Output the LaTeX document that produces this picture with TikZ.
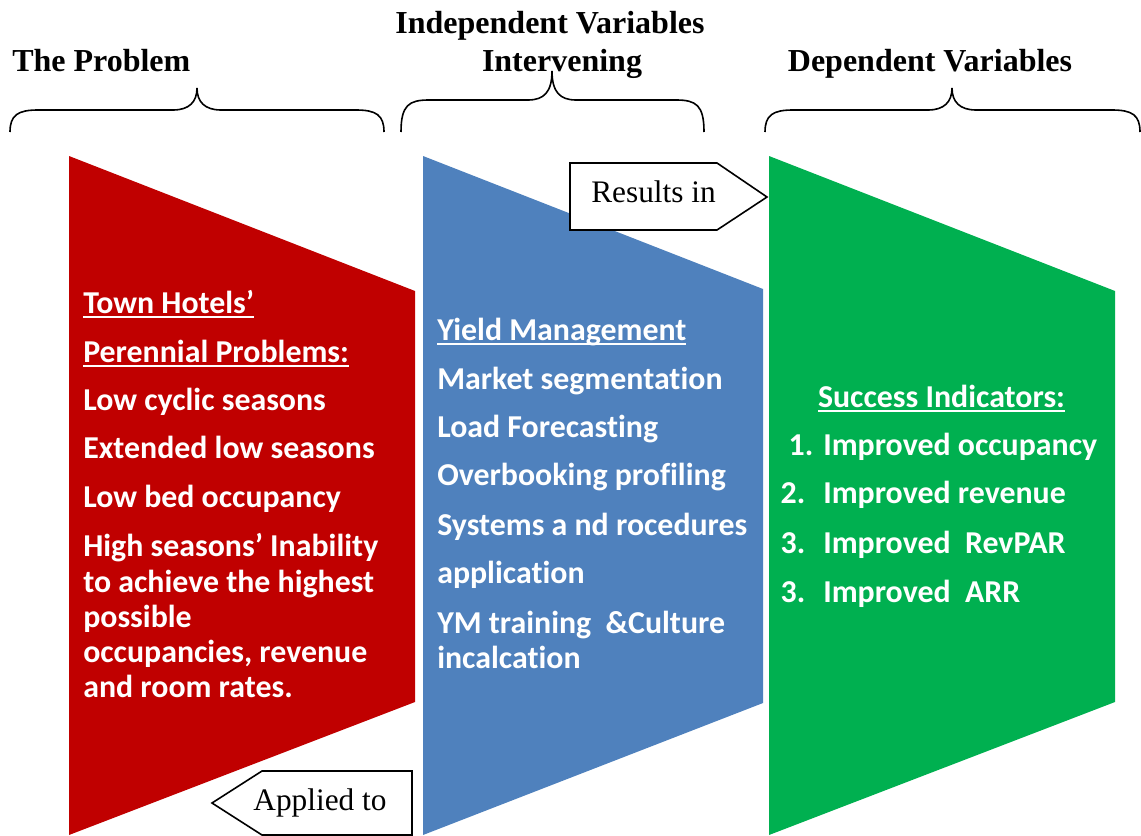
\documentclass[tikz,border=0pt]{standalone}
\usepackage{fontspec}
\setmainfont{Liberation Serif}
\newfontfamily\bodyfont[Ligatures=NoCommon]{Carlito}
\definecolor{probred}{HTML}{C00000}
\definecolor{ivblue}{HTML}{4F81BD}
\definecolor{dvgreen}{HTML}{00B050}
% white underline at a fixed depth below the baseline
\newcommand\ulw[1]{\setbox0=\hbox{#1}\rlap{\rule[-3.9pt]{\wd0}{1.5pt}}\box0}
\begin{document}
\begin{tikzpicture}[x=0.75pt,y=-0.75pt,
  headtitle/.style={font=\fontsize{24}{28}\selectfont\bfseries, inner sep=0pt},
  panelline/.style={font=\bodyfont\fontsize{23.9}{27}\selectfont\bfseries, text=white, inner sep=0pt, anchor=base west},
  arrowbox/.style={draw=black, fill=white, line width=1.2pt, line join=miter},
  arrowtext/.style={font=\fontsize{23.5}{27}\selectfont, inner sep=0pt, anchor=base},
  bracket/.style={draw=black, line width=1.2pt}]
\useasboundingbox (0,0) rectangle (1141,835);

% three panels
\fill[probred] (69,156) coordinate (rtl) -- (415,291) coordinate (rtr) -- (415,702) coordinate (rbr) -- (69,835) coordinate (rbl) -- cycle;
\fill[ivblue]  (423,156) coordinate (btl) -- (763,289) coordinate (btr) -- (763,703) coordinate (bbr) -- (423,835) coordinate (bbl) -- cycle;
\fill[dvgreen] (769,156) coordinate (gtl) -- (1115,291) coordinate (gtr) -- (1115,702) coordinate (gbr) -- (769,835) coordinate (gbl) -- cycle;

% curly brackets above the panels
\foreach \xa/\xm/\xb/\yl/\yt in {10/197/384/110/88, 401/552/704/100/71, 765/952/1140/110/88}{
  \draw[bracket] (\xa,132) .. controls (\xa,\yl+5) and (\xa+8,\yl) .. (\xa+28,\yl)
    -- (\xm-24,\yl) .. controls (\xm-8,\yl) and (\xm,\yl-8) .. (\xm,\yt)
    .. controls (\xm,\yl-8) and (\xm+8,\yl) .. (\xm+24,\yl)
    -- (\xb-28,\yl) .. controls (\xb-8,\yl) and (\xb,\yl+5) .. (\xb,132);
}

% headings
\node[headtitle, anchor=base west] (tprob) at (12,71) {The Problem};
\node[headtitle, anchor=base] (tind) at (550,33) {Independent Variables};
\node[headtitle, anchor=base] (tint) at (562,71) {Intervening};
\node[headtitle, anchor=base] (tdep) at (930,71) {Dependent Variables};

% arrow labels
\draw[arrowbox] (570,163) -- (717,163) -- (767,197) -- (717,230) -- (570,230) -- cycle;
\node[arrowtext] (resin) at (653.5,202) {Results in};
\draw[arrowbox] (412,771) -- (262,771) -- (212,803) -- (262,835) -- (412,835) -- cycle;
\node[arrowtext] (appto) at (320,810) {Applied to};

% problem panel text
\foreach \n/\y/\t in {1/313/{\ulw{Town Hotels’}}, 2/362/{\ulw{Perennial Problems:}},
    3/410/{Low cyclic seasons}, 4/458/{Extended low seasons}, 5/507/{Low bed occupancy},
    6/556/{High seasons’ Inability}, 7/592/{to achieve the highest}, 8/627/{possible},
    9/662/{occupancies, revenue}, 10/697/{and room rates.}}{
  \node[panelline] (red\n) at (83,\y) {\t};
}

% intervening panel text
\foreach \n/\y/\t in {1/340/{\ulw{Yield Management}}, 2/389/{Market segmentation},
    3/437/{Load Forecasting}, 4/485/{Overbooking profiling}, 5/535/{Systems a nd rocedures},
    6/583/{application}, 7/633/{YM training~~\&Culture}, 8/668/{incalcation}}{
  \node[panelline] (blue\n) at (437,\y) {\t};
}

% dependent panel text
\node[panelline, anchor=base] (green0) at (941.5,407) {\ulw{Success Indicators:}};
\node[panelline] (green1) at (823,455) {\llap{1.\hspace{7.5pt}}Improved occupancy};
\node[panelline] (green2) at (823,503) {\llap{2.\hspace{13.5pt}}Improved revenue};
\node[panelline] (green3) at (823,553) {\llap{3.\hspace{13.5pt}}Improved~~RevPAR};
\node[panelline] (green4) at (823,602) {\llap{3.\hspace{13.5pt}}Improved~~ARR};
\end{tikzpicture}
\end{document}
